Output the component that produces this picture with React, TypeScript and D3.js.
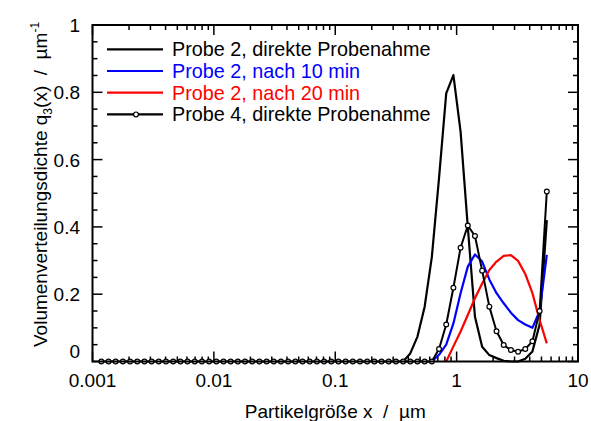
import React from "react";
import * as d3 from "d3";

const sizes = [
  0.001182, 0.001355, 0.001552, 0.001779, 0.002039, 0.002337, 0.002679, 0.003069,
  0.003518, 0.004032, 0.004621, 0.005296, 0.006067, 0.006955, 0.007971, 0.009135,
  0.01047, 0.012, 0.01375, 0.01576, 0.01806, 0.0207, 0.02371, 0.02718,
  0.03115, 0.0357, 0.04092, 0.04688, 0.05373, 0.06158, 0.07058, 0.08089,
  0.09269, 0.1062, 0.1217, 0.1395, 0.1599, 0.1832, 0.21, 0.2407,
  0.2758, 0.3161, 0.3622, 0.4151, 0.4758, 0.5453, 0.625, 0.7161,
  0.8209, 0.9406, 1.078, 1.236, 1.416, 1.623, 1.86, 2.132,
  2.443, 2.799, 3.208, 3.677, 4.213, 4.829, 5.534,
];

const N = null;
// Probe 2, direkte Probenahme
const probe2Direkt: (number | null)[] = [
  N, N, N, N, N, N, N, N, N, N, N, N, N, N, N, N,
  N, N, N, N, N, N, N, N, N, N, N, N, N, N, N, N,
  N, N, N, N, N, N, N, N, N, N,
  0, 0.024, 0.074, 0.163, 0.311, 0.545, 0.797, 0.851, 0.683, 0.4, 0.133, 0.044,
  0.019, 0.01, 0.002, 0, 0, 0.008, 0.03, 0.11, 0.42,
];
// Probe 2, nach 10 min
const probe2Nach10: (number | null)[] = [
  N, N, N, N, N, N, N, N, N, N, N, N, N, N, N, N,
  N, N, N, N, N, N, N, N, N, N, N, N, N, N, N, N,
  N, N, N, N, N, N, N, N, N, N, N, N, N, N,
  0, 0.02, 0.05, 0.113, 0.203, 0.282, 0.318, 0.297, 0.244, 0.203, 0.173, 0.145,
  0.123, 0.11, 0.1, 0.15, 0.317,
];
// Probe 2, nach 20 min
const probe2Nach20: (number | null)[] = [
  N, N, N, N, N, N, N, N, N, N, N, N, N, N, N, N,
  N, N, N, N, N, N, N, N, N, N, N, N, N, N, N, N,
  N, N, N, N, N, N, N, N, N, N, N, N, N, N, N, N,
  0.0, 0.045, 0.089, 0.138, 0.188, 0.232, 0.272, 0.297, 0.314, 0.316, 0.299, 0.26,
  0.203, 0.123, 0.054,
];
// Probe 4, direkte Probenahme
const probe4Direkt: number[] = [
  0, 0, 0, 0, 0, 0, 0, 0, 0, 0, 0, 0, 0, 0, 0, 0,
  0, 0, 0, 0, 0, 0, 0, 0, 0, 0, 0, 0, 0, 0, 0, 0,
  0, 0, 0, 0, 0, 0, 0, 0, 0, 0, 0, 0, 0, 0, 0,
  0.037, 0.11, 0.219, 0.338, 0.404, 0.373, 0.27, 0.163, 0.09, 0.049, 0.034, 0.029,
  0.037, 0.06, 0.15, 0.505,
];

const xTickValues = [0.001, 0.01, 0.1, 1, 10];
const xTickLabels = ["0.001", "0.01", "0.1", "1", "10"];
const yTickValues = [0, 0.2, 0.4, 0.6, 0.8, 1];
const yTickLabels = ["0", "0.2", "0.4", "0.6", "0.8", "1"];

const legendLabels = [
  "Probe 2, direkte Probenahme",
  "Probe 2, nach 10 min",
  "Probe 2, nach 20 min",
  "Probe 4, direkte Probenahme",
];
const legendColors = ["#000000", "#0000ff", "#ff0000", "#000000"];

const W = 591;
const H = 421;
const L = 92.5, R = 578, T = 25, B = 361.5;
const FONT = "'Liberation Sans', Arial, sans-serif";

export default function App() {
  const x = d3.scaleLog().domain([0.001, 10]).range([L, R]);
  const y = d3.scaleLinear().domain([0, 1]).range([B, T]);

  const line = d3
    .line<number | null>()
    .defined((d) => d !== null)
    .x((_, i) => x(sizes[i]))
    .y((d) => y(d as number));

  const minorX: number[] = [];
  for (let e = -3; e < 1; e++) {
    for (let m = 2; m <= 9; m++) minorX.push(m * Math.pow(10, e));
  }
  const minorY: number[] = d3.range(0, 1.0001, 0.05).filter((v) => Math.abs(v * 5 - Math.round(v * 5)) > 1e-6);

  const series = [probe2Direkt, probe2Nach10, probe2Nach20];

  return (
    <svg width={W} height={H} style={{ display: "block", position: "absolute", left: 0, top: 0 }} fontFamily={FONT}>
      <rect x={0} y={0} width={W} height={H} fill="#fff" />
      {/* ticks */}
      <g stroke="#000" strokeWidth={1.5}>
        {minorX.map((v, i) => (
          <g key={"mx" + i}>
            <line x1={x(v)} x2={x(v)} y1={B} y2={B - 5} />
            <line x1={x(v)} x2={x(v)} y1={T} y2={T + 5} />
          </g>
        ))}
        {xTickValues.map((v, i) => (
          <g key={"Mx" + i}>
            <line x1={x(v)} x2={x(v)} y1={B} y2={B - 10} />
            <line x1={x(v)} x2={x(v)} y1={T} y2={T + 10} />
          </g>
        ))}
        {minorY.map((v, i) => (
          <g key={"my" + i}>
            <line x1={L} x2={L + 5} y1={y(v)} y2={y(v)} />
            <line x1={R} x2={R - 5} y1={y(v)} y2={y(v)} />
          </g>
        ))}
        {yTickValues.map((v, i) => (
          <g key={"My" + i}>
            <line x1={L} x2={L + 10} y1={y(v)} y2={y(v)} />
            <line x1={R} x2={R - 10} y1={y(v)} y2={y(v)} />
          </g>
        ))}
      </g>
      {/* data */}
      {series.map((s, k) => (
        <path key={"s" + k} d={line(s) || ""} fill="none" stroke={legendColors[k]} strokeWidth={2.2} strokeLinejoin="round" />
      ))}
      <path d={line(probe4Direkt) || ""} fill="none" stroke="#000" strokeWidth={2} strokeLinejoin="round" />
      {probe4Direkt.map((v, i) => (
        <circle key={"c" + i} cx={x(sizes[i])} cy={y(v)} r={2.4} fill="#fff" stroke="#000" strokeWidth={1.2} />
      ))}
      {/* frame */}
      <rect x={L} y={T} width={R - L} height={B - T} fill="none" stroke="#000" strokeWidth={2} />
      {/* tick labels */}
      <g fontSize={19} fill="#000">
        {xTickValues.map((v, i) => (
          <text key={"xl" + i} x={x(v)} y={387} textAnchor="middle">{xTickLabels[i]}</text>
        ))}
        {yTickValues.map((v, i) => (
          <text key={"yl" + i} x={80} y={i === 0 ? 358 : y(v) + 7} textAnchor="end">{yTickLabels[i]}</text>
        ))}
      </g>
      {/* axis titles */}
      <text x={(L + R) / 2} y={418} textAnchor="middle" fontSize={19} style={{ whiteSpace: "pre" }}>
        {"Partikelgröße x  /  µm"}
      </text>
      <text transform="translate(47,347) rotate(-90)" fontSize={19} style={{ whiteSpace: "pre" }}>
        {"Volumenverteilungsdichte q"}
        <tspan fontSize={12} dy={5}>3</tspan>
        <tspan dy={-5}>{"(x)  /  µm"}</tspan>
        <tspan fontSize={12} dy={-8}>-1</tspan>
      </text>
      {/* legend */}
      {legendLabels.map((lab, i) => {
        const ly = 49.3 + i * 21.7;
        return (
          <g key={"lg" + i}>
            <line x1={107} x2={163} y1={ly} y2={ly} stroke={legendColors[i]} strokeWidth={2.2} />
            {i === 3 && <circle cx={136} cy={ly} r={2.4} fill="#fff" stroke="#000" strokeWidth={1.2} />}
            <text x={172} y={ly + 7} fontSize={19.8} fill={legendColors[i]}>{lab}</text>
          </g>
        );
      })}
    </svg>
  );
}
